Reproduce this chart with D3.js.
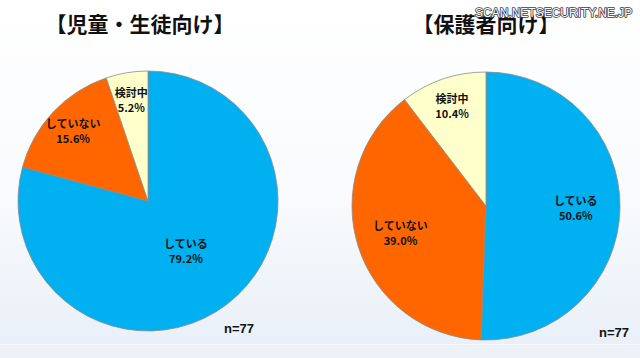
<!DOCTYPE html>
<html>
<head>
    <meta charset="utf-8">
    <style>
        body { margin: 0; }
        .title { font: bold 21px "Noto Sans CJK JP", sans-serif; fill: #111; }
        .label { font: bold 11px "Liberation Sans Narrow", "Noto Sans CJK JP", sans-serif; fill: #111; }
        .note { font: bold 13px "Liberation Sans Narrow", sans-serif; fill: #111; }
        .mark { font: 12px "Liberation Sans", sans-serif; fill: #fff; stroke: #3a3a3a; stroke-width: 1.6px; paint-order: stroke; stroke-linejoin: round; }
    </style>
</head>
<body>
    <svg width="640" height="358"></svg>

    <script src="https://cdnjs.cloudflare.com/ajax/libs/d3/7.8.5/d3.min.js"></script>

    <script>
        var categories = ["している", "していない", "検討中"];
        var studentValues = [79.2, 15.6, 5.2];
        var parentValues = [50.6, 39.0, 10.4];
        var chartTitles = ["【児童・生徒向け】", "【保護者向け】"];
        var sampleSizes = [77, 77];

        var colors = d3.scaleOrdinal().domain(categories).range(["#00b0f0", "#ff6600", "#ffffcc"]);

        var svg = d3.select("svg");
        var width = +svg.attr("width");
        var height = +svg.attr("height");

        // background
        var defs = svg.append("defs");
        var grad = defs.append("linearGradient").attr("id", "bg")
            .attr("x1", 0).attr("y1", 0).attr("x2", 0).attr("y2", 1);
        grad.append("stop").attr("offset", "0%").attr("stop-color", "#ffffff");
        grad.append("stop").attr("offset", "55%").attr("stop-color", "#f8fafd");
        grad.append("stop").attr("offset", "100%").attr("stop-color", "#e8eff7");
        svg.append("rect").attr("width", width).attr("height", height).attr("fill", "url(#bg)");
        svg.append("rect").attr("y", 344).attr("width", width).attr("height", 14).attr("fill", "#edf2f8");
        svg.append("rect").attr("y", 344).attr("width", width).attr("height", 1).attr("fill", "#f7f9fc");

        var charts = [
            {values: studentValues, title: chartTitles[0], n: sampleSizes[0], cx: 148, cy: 201, r: 130, tx: 140, nx: 224, ny: 333},
            {values: parentValues, title: chartTitles[1], n: sampleSizes[1], cx: 486, cy: 206, r: 134, tx: 486, nx: 599, ny: 337}
        ];

        var pie = d3.pie().sort(null).value(function(d) { return d.value; });

        function labelFactor(frac) {
            if (frac < 0.2) return 0.79;
            if (frac < 0.6) return 0.67;
            return 0.48;
        }

        charts.forEach(function(c) {
            var data = categories.map(function(k, i) { return {key: k, value: c.values[i]}; });
            var total = d3.sum(c.values);
            var arc = d3.arc().innerRadius(0).outerRadius(c.r);
            var g = svg.append("g").attr("transform", "translate(" + c.cx + "," + c.cy + ")");

            var slices = pie(data);
            g.selectAll("path").data(slices).enter().append("path")
                .attr("d", arc)
                .attr("fill", function(d) { return colors(d.data.key); })
                .attr("stroke", "#8a8a8a")
                .attr("stroke-width", 0.8);

            var lab = g.selectAll("g.lab").data(slices).enter().append("g")
                .attr("class", "lab")
                .attr("transform", function(d) {
                    var k = labelFactor(d.data.value / total) * c.r;
                    var p = d3.arc().innerRadius(k).outerRadius(k).centroid(d);
                    return "translate(" + p[0] + "," + p[1] + ")";
                });
            lab.append("text").attr("class", "label").attr("text-anchor", "middle")
                .attr("y", -3).text(function(d) { return d.data.key; });
            lab.append("text").attr("class", "label").attr("text-anchor", "middle")
                .attr("y", 12).text(function(d) { return d.data.value.toFixed(1) + "%"; });

            svg.append("text").attr("class", "title").attr("text-anchor", "middle")
                .attr("x", c.tx).attr("y", 32).text(c.title);
            svg.append("text").attr("class", "note")
                .attr("x", c.nx).attr("y", c.ny).text("n=" + c.n);
        });

        // watermark sits over the right title, as in the source image
        svg.append("text").attr("class", "mark").attr("x", 475).attr("y", 17).text("SCAN.NETSECURITY.NE.JP");
    </script>
</body>
</html>
